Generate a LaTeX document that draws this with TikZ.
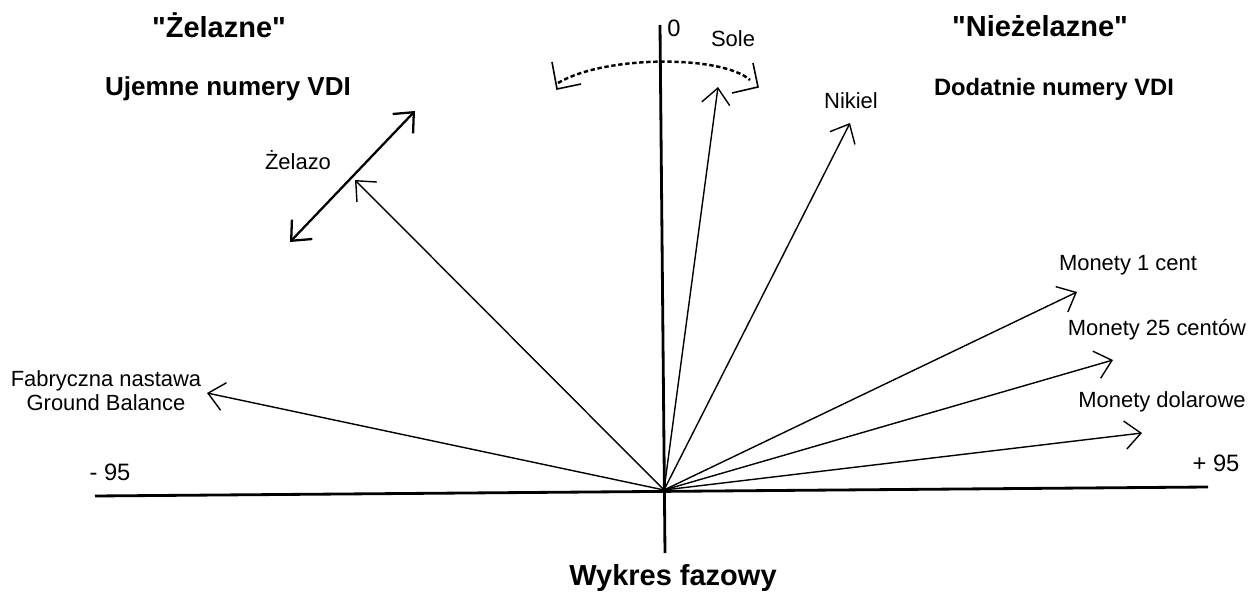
\documentclass[tikz,border=0pt]{standalone}
\usepackage{fontspec}
\setmainfont{Liberation Sans}
\usetikzlibrary{arrows.meta}

\begin{document}
\begin{tikzpicture}[
  x=0.2mm, y=-0.2mm,
  vec/.style={-{Straight Barb[length=9pt, width=16pt]}, line width=0.8pt},
  axis/.style={line width=1.6pt},
  lbl/.style={font=\fontsize{12.5}{13.6}\selectfont, inner sep=0pt, align=center},
  head/.style={font=\bfseries\fontsize{16.5}{19}\selectfont, inner sep=0pt},
  side/.style={font=\bfseries\fontsize{13.5}{16}\selectfont, inner sep=0pt},
  num/.style={font=\fontsize{13.5}{16}\selectfont, inner sep=0pt}
]
\useasboundingbox (0,0) rectangle (1258,597);

% Axes
\coordinate (O) at (664,490);
\coordinate (top) at (660,25);
\coordinate (bot) at (665,553);
\coordinate (left) at (95,496);
\coordinate (right) at (1208,487);
\draw[axis] (top) -- (bot);
\draw[axis] (left) -- (right);

% Headings
\node[head] (fe) at (219,25) {\textquotedbl Żelazne\textquotedbl};
\node[head] (nfe) at (1040,26) {\textquotedbl Nieżelazne\textquotedbl};
\node[side, font=\bfseries\fontsize{14.8}{17}\selectfont] (neg) at (228,89) {Ujemne numery VDI};
\node[side] (pos) at (1054,89) {Dodatnie numery VDI};
\node[head] (title) at (673,578) {Wykres fazowy};

% Scale labels
\node[num] (zero) at (674,28) {0};
\node[num] (m95) at (110,472) {- 95};
\node[num] (p95) at (1216,463) {+ 95};

% Vector tips
\coordinate (sole) at (718,87);
\coordinate (nik) at (850,123);
\coordinate (iron) at (355,180);
\coordinate (gb) at (207,393);
\coordinate (c1) at (1077,292);
\coordinate (c25) at (1113,360);
\coordinate (dol) at (1142,433);
\coordinate (fe1) at (415,111);
\coordinate (fe2) at (290,242);

% Vector labels
\node[lbl] (lsole) at (733,39) {Sole};
\node[lbl] (lnik) at (851,101) {Nikiel};
\node[lbl] (liron) at (298,160) {Żelazo};
\node[lbl] (lgb) at (106,391) {Fabryczna nastawa\\Ground Balance};
\node[lbl] (lc1) at (1128,265) {Monety 1 cent};
\node[lbl] (lc25) at (1157,330) {Monety 25 centów};
\node[lbl] (ldol) at (1162,402) {Monety dolarowe};

% Vectors
\draw[vec] (O) -- (sole);
\draw[vec] (O) -- (nik);
\draw[vec] (O) -- (iron);
\draw[vec] (O) -- (gb);
\draw[vec] (O) -- (c1);
\draw[vec] (O) -- (c25);
\draw[vec] (O) -- (dol);
\draw[vec, {Straight Barb[length=9pt, width=16pt]}-{Straight Barb[length=9pt, width=16pt]}, line width=1.3pt] (fe2) -- (fe1);

% Salt range
\coordinate (sl) at (558,83);
\coordinate (sr) at (750,80);
\draw[line width=1.4pt, dash pattern=on 2.5pt off 1.5pt] (sl) .. controls (605,55) and (722,55) .. (sr);
\draw[line width=0.9pt] (552,62) -- (557,89) -- (581,84);
\draw[line width=0.9pt] (753,63) -- (758,87) -- (732,93);

\end{tikzpicture}
\end{document}
